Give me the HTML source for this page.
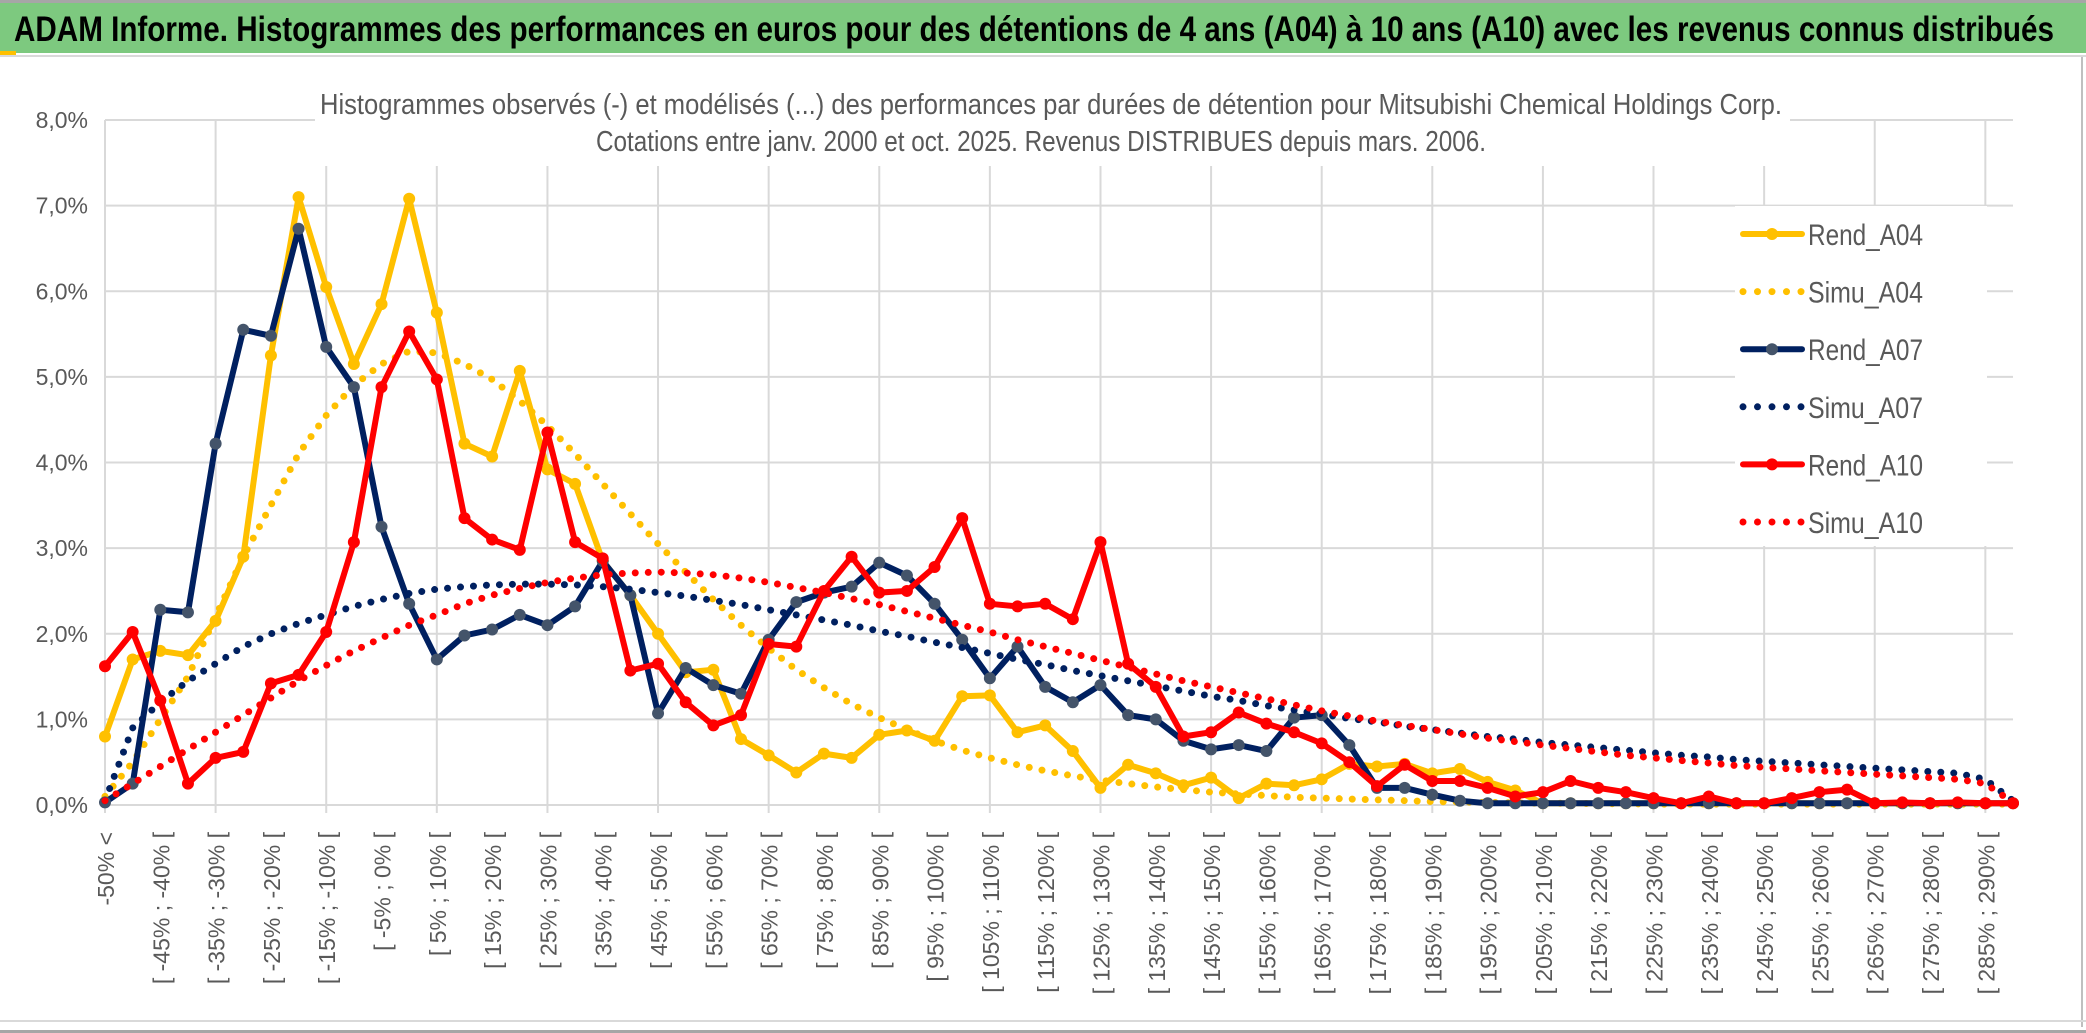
<!DOCTYPE html>
<html><head><meta charset="utf-8"><style>
html,body{margin:0;padding:0;background:#fff;}
svg{display:block;font-family:"Liberation Sans Narrow","Liberation Sans",sans-serif;}
</style></head><body>
<svg id="chart" width="2086" height="1033" viewBox="0 0 2086 1033" xmlns="http://www.w3.org/2000/svg">
<rect x="0" y="0" width="2086" height="1033" fill="#fff"/>
<rect x="0" y="0" width="2086" height="3" fill="#a6a6a6"/>
<rect x="0" y="3" width="2086" height="50" fill="#7dc97f"/>
<rect x="0" y="51" width="16" height="4" fill="#ffc000"/>
<rect x="0" y="55" width="2086" height="2" fill="#d9d9d9"/>
<text x="14" y="41" font-size="35" font-weight="bold" fill="#000" textLength="2040" lengthAdjust="spacingAndGlyphs">ADAM Informe. Histogrammes des performances en euros pour des détentions de 4 ans (A04) à 10 ans (A10) avec les revenus connus distribués</text>
<rect x="2081" y="57" width="2" height="970" fill="#bfbfbf"/>
<rect x="0" y="1020" width="2086" height="2" fill="#d9d9d9"/>
<rect x="0" y="1030" width="2086" height="3" fill="#a6a6a6"/>
<g id="grid"></g>
<g id="yaxis"></g>
<g id="xaxis"></g>
<rect x="315" y="76" width="1475" height="90" fill="#fff"/>
<text x="1051" y="114" font-size="29" fill="#595959" text-anchor="middle" textLength="1462" lengthAdjust="spacingAndGlyphs">Histogrammes observés (-) et modélisés (...) des performances par durées de détention pour Mitsubishi Chemical Holdings Corp.</text>
<text x="1041" y="151" font-size="29" fill="#595959" text-anchor="middle" textLength="890" lengthAdjust="spacingAndGlyphs">Cotations entre janv. 2000 et oct. 2025. Revenus DISTRIBUES depuis mars. 2006.</text>
<g id="series"></g>
<rect x="1735" y="206" width="252" height="340" fill="#fff"/>
<g id="legend"></g>
</svg>
<script>
const categories = ["-50% <","[ -50% ; -45% [","[ -45% ; -40% [","[ -40% ; -35% [","[ -35% ; -30% [","[ -30% ; -25% [","[ -25% ; -20% [","[ -20% ; -15% [","[ -15% ; -10% [","[ -10% ; -5% [","[ -5% ; 0% [","[ 0% ; 5% [","[ 5% ; 10% [","[ 10% ; 15% [","[ 15% ; 20% [","[ 20% ; 25% [","[ 25% ; 30% [","[ 30% ; 35% [","[ 35% ; 40% [","[ 40% ; 45% [","[ 45% ; 50% [","[ 50% ; 55% [","[ 55% ; 60% [","[ 60% ; 65% [","[ 65% ; 70% [","[ 70% ; 75% [","[ 75% ; 80% [","[ 80% ; 85% [","[ 85% ; 90% [","[ 90% ; 95% [","[ 95% ; 100% [","[ 100% ; 105% [","[ 105% ; 110% [","[ 110% ; 115% [","[ 115% ; 120% [","[ 120% ; 125% [","[ 125% ; 130% [","[ 130% ; 135% [","[ 135% ; 140% [","[ 140% ; 145% [","[ 145% ; 150% [","[ 150% ; 155% [","[ 155% ; 160% [","[ 160% ; 165% [","[ 165% ; 170% [","[ 170% ; 175% [","[ 175% ; 180% [","[ 180% ; 185% [","[ 185% ; 190% [","[ 190% ; 195% [","[ 195% ; 200% [","[ 200% ; 205% [","[ 205% ; 210% [","[ 210% ; 215% [","[ 215% ; 220% [","[ 220% ; 225% [","[ 225% ; 230% [","[ 230% ; 235% [","[ 235% ; 240% [","[ 240% ; 245% [","[ 245% ; 250% [","[ 250% ; 255% [","[ 255% ; 260% [","[ 260% ; 265% [","[ 265% ; 270% [","[ 270% ; 275% [","[ 275% ; 280% [","[ 280% ; 285% [","[ 285% ; 290% [","> 290%"];
const yTicks = [0,1,2,3,4,5,6,7,8];
const yTickLabels = ["0,0%","1,0%","2,0%","3,0%","4,0%","5,0%","6,0%","7,0%","8,0%"];
const rendA04 = [0.8,1.7,1.8,1.75,2.15,2.9,5.25,7.1,6.05,5.15,5.85,7.08,5.75,4.22,4.07,5.07,3.92,3.75,2.85,2.45,2.0,1.55,1.58,0.77,0.58,0.38,0.6,0.55,0.82,0.87,0.75,1.27,1.28,0.85,0.93,0.63,0.2,0.47,0.37,0.23,0.32,0.08,0.25,0.23,0.3,0.48,0.45,0.48,0.37,0.42,0.27,0.17,0.02,0.02,0.02,0.02,0.02,0.02,0.02,0.02,0.02,0.02,0.02,0.02,0.02,0.02,0.02,0.02,0.02,0.02];
const simuA04 = [0.1,0.5,1.0,1.5,2.2,2.9,3.5,4.1,4.55,4.9,5.15,5.3,5.28,5.15,4.97,4.72,4.43,4.1,3.75,3.4,3.05,2.72,2.4,2.1,1.83,1.58,1.37,1.18,1.02,0.88,0.75,0.64,0.55,0.47,0.4,0.34,0.29,0.25,0.21,0.18,0.15,0.13,0.11,0.09,0.08,0.07,0.06,0.05,0.04,0.035,0.03,0.025,0.02,0.02,0.015,0.015,0.01,0.01,0.01,0.01,0.01,0.01,0.01,0.01,0.01,0.01,0.01,0.01,0.01,0.01];
const rendA07 = [0.03,0.25,2.28,2.25,4.22,5.55,5.48,6.73,5.35,4.88,3.25,2.35,1.7,1.98,2.05,2.22,2.1,2.32,2.85,2.45,1.07,1.6,1.4,1.3,1.93,2.37,2.48,2.55,2.83,2.68,2.35,1.93,1.48,1.85,1.38,1.2,1.4,1.05,1.0,0.75,0.65,0.7,0.63,1.02,1.05,0.7,0.2,0.2,0.12,0.05,0.02,0.02,0.02,0.02,0.02,0.02,0.02,0.02,0.02,0.02,0.02,0.02,0.02,0.02,0.02,0.02,0.02,0.02,0.02,0.02];
const simuA07 = [0.05,0.9,1.2,1.45,1.65,1.85,2.0,2.12,2.22,2.32,2.4,2.47,2.52,2.55,2.57,2.58,2.58,2.57,2.55,2.52,2.48,2.44,2.39,2.34,2.28,2.22,2.16,2.1,2.03,1.97,1.9,1.84,1.77,1.7,1.64,1.57,1.51,1.45,1.39,1.33,1.27,1.22,1.16,1.11,1.06,1.01,0.97,0.92,0.88,0.84,0.8,0.77,0.73,0.7,0.67,0.64,0.61,0.58,0.56,0.53,0.51,0.49,0.47,0.45,0.43,0.41,0.39,0.37,0.3,0.05];
const rendA10 = [1.62,2.02,1.22,0.25,0.55,0.62,1.42,1.52,2.02,3.07,4.88,5.53,4.97,3.35,3.1,2.98,4.35,3.07,2.88,1.57,1.65,1.2,0.93,1.05,1.88,1.85,2.5,2.9,2.48,2.5,2.78,3.35,2.35,2.32,2.35,2.17,3.07,1.65,1.38,0.8,0.85,1.08,0.95,0.85,0.72,0.5,0.22,0.47,0.28,0.28,0.2,0.1,0.15,0.28,0.2,0.15,0.08,0.02,0.1,0.02,0.02,0.08,0.15,0.18,0.02,0.03,0.02,0.03,0.02,0.02];
const simuA10 = [0.05,0.25,0.45,0.65,0.85,1.05,1.25,1.45,1.63,1.8,1.95,2.1,2.22,2.35,2.45,2.53,2.6,2.65,2.69,2.71,2.72,2.71,2.69,2.65,2.6,2.54,2.48,2.41,2.34,2.26,2.18,2.1,2.02,1.93,1.85,1.77,1.69,1.61,1.53,1.45,1.38,1.31,1.24,1.17,1.1,1.04,0.98,0.93,0.88,0.83,0.78,0.74,0.7,0.66,0.62,0.58,0.55,0.52,0.49,0.46,0.44,0.42,0.4,0.38,0.36,0.34,0.32,0.3,0.25,0.03];

const NS = "http://www.w3.org/2000/svg";
const X0 = 105, X1 = 2013, Y0 = 805, YTOP = 120, YMAX = 8;
function xPos(i){ return X0 + i * (X1 - X0) / (categories.length - 1); }
function yPos(v){ return Y0 - v / YMAX * (Y0 - YTOP); }
function mk(tag, parent){ const e = document.createElementNS(NS, tag); parent.appendChild(e); return e; }

const grid = document.getElementById('grid');
yTicks.forEach(function(t){
  const l = mk('line', grid);
  
  
  l.setAttribute('x1', X0); l.setAttribute('x2', X1);
  l.setAttribute('y1', yPos(t)); l.setAttribute('y2', yPos(t));
  l.setAttribute('stroke', '#d9d9d9'); l.setAttribute('stroke-width', '2');
});
for (let i = 0; i < categories.length; i += 4) {
  const l = mk('line', grid);
  
  
  l.setAttribute('x1', xPos(i)); l.setAttribute('x2', xPos(i));
  l.setAttribute('y1', YTOP); l.setAttribute('y2', Y0 + 8);
  l.setAttribute('stroke', '#d9d9d9'); l.setAttribute('stroke-width', '2');
}
const yaxis = document.getElementById('yaxis');
yTicks.forEach(function(t, k){
  const tx = mk('text', yaxis);
  
  
  tx.setAttribute('x', 88); tx.setAttribute('y', yPos(t) + 8);
  tx.setAttribute('text-anchor', 'end'); tx.setAttribute('font-size', '23');
  tx.setAttribute('fill', '#595959');
  tx.textContent = yTickLabels[k];
});
const xaxis = document.getElementById('xaxis');
categories.forEach(function(c, i){
  if (i % 2 !== 0) return;
  const tx = mk('text', xaxis);
  
  
  const x = xPos(i) + 1, y = 832;
  tx.setAttribute('x', x); tx.setAttribute('y', y);
  tx.setAttribute('transform', 'rotate(-90 ' + x + ' ' + y + ')');
  tx.setAttribute('text-anchor', 'end'); tx.setAttribute('dominant-baseline', 'central');
  tx.setAttribute('font-size', '23'); tx.setAttribute('fill', '#595959');
  tx.textContent = c;
});

const seriesLayer = document.getElementById('series');
function pts(vals){ return vals.map(function(v, i){ return xPos(i).toFixed(1) + ',' + yPos(v).toFixed(1); }).join(' '); }
function solid(vals, color, mcolor, name){
  const g = mk('g', seriesLayer);
  
  
  const p = mk('polyline', g);
  
  
  p.setAttribute('points', pts(vals)); p.setAttribute('fill', 'none');
  p.setAttribute('stroke', color); p.setAttribute('stroke-width', '6');
  p.setAttribute('stroke-linejoin', 'round'); p.setAttribute('stroke-linecap', 'round');
  vals.forEach(function(v, i){
    const c = mk('circle', g);
    
    
    c.setAttribute('cx', xPos(i)); c.setAttribute('cy', yPos(v)); c.setAttribute('r', '6');
    c.setAttribute('fill', mcolor);
  });
}
function dotted(vals, color, name){
  const p = mk('polyline', seriesLayer);
  
  
  p.setAttribute('points', pts(vals)); p.setAttribute('fill', 'none');
  p.setAttribute('stroke', color); p.setAttribute('stroke-width', '7');
  p.setAttribute('stroke-dasharray', '0 13'); p.setAttribute('stroke-linecap', 'round');
}
solid(rendA04, '#ffc000', '#ffc000', 'rend-a04');
dotted(simuA04, '#ffc000', 'simu-a04');
solid(rendA07, '#002060', '#44546a', 'rend-a07');
dotted(simuA07, '#002060', 'simu-a07');
solid(rendA10, '#ff0000', '#ff0000', 'rend-a10');
dotted(simuA10, '#ff0000', 'simu-a10');

const legendNames = ["Rend_A04","Simu_A04","Rend_A07","Simu_A07","Rend_A10","Simu_A10"];
const legendColors = ['#ffc000','#ffc000','#002060','#002060','#ff0000','#ff0000'];
const legendMarkers = ['#ffc000',null,'#44546a',null,'#ff0000',null];
const legend = document.getElementById('legend');
legendNames.forEach(function(n, k){
  const y = 234 + k * 57.6;
  const g = mk('g', legend);
  
  
  const l = mk('line', g);
  
  
  l.setAttribute('x1', 1743); l.setAttribute('x2', 1802); l.setAttribute('y1', y); l.setAttribute('y2', y);
  l.setAttribute('stroke', legendColors[k]); l.setAttribute('stroke-linecap', 'round');
  if (legendMarkers[k]) {
    l.setAttribute('stroke-width', '6');
    const c = mk('circle', g);
    
    
    c.setAttribute('cx', 1772); c.setAttribute('cy', y); c.setAttribute('r', '6'); c.setAttribute('fill', legendMarkers[k]);
  } else {
    l.setAttribute('stroke-width', '7'); l.setAttribute('stroke-dasharray', '0 14.5');
  }
  const t = mk('text', g);
  
  
  t.setAttribute('x', 1808); t.setAttribute('y', y + 11);
  t.setAttribute('font-size', '30'); t.setAttribute('fill', '#595959');
  t.setAttribute('textLength', '115'); t.setAttribute('lengthAdjust', 'spacingAndGlyphs');
  t.textContent = n;
});
</script>
</body></html>
